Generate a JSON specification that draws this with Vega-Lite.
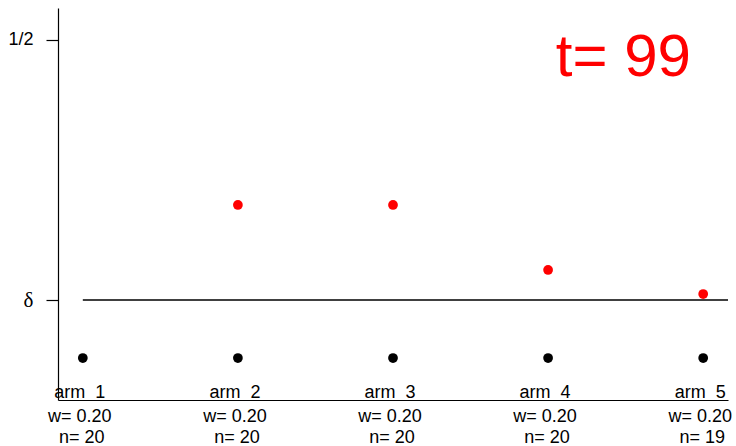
{
  "$schema": "https://vega.github.io/schema/vega-lite/v6.json",
  "width": 670,
  "height": 392,
  "autosize": "none",
  "padding": {"left": 58, "top": 8, "right": 8, "bottom": 46},
  "background": "white",
  "config": {
    "view": {"stroke": null},
    "font": "Liberation Sans",
    "text": {"font": "Liberation Sans"}
  },
  "datasets": {
    "points": [
      {"arm": 1, "value": 0.0108, "kind": "black"},
      {"arm": 2, "value": 0.0108, "kind": "black"},
      {"arm": 3, "value": 0.0108, "kind": "black"},
      {"arm": 4, "value": 0.0108, "kind": "black"},
      {"arm": 5, "value": 0.0108, "kind": "black"},
      {"arm": 2, "value": 0.2462, "kind": "red"},
      {"arm": 3, "value": 0.2462, "kind": "red"},
      {"arm": 4, "value": 0.1462, "kind": "red"},
      {"arm": 5, "value": 0.1092, "kind": "red"}
    ],
    "arms": [
      {"arm": 1, "armLabel": "arm\u00a0\u00a01", "wLabel": "w= 0.20", "nLabel": "n= 20"},
      {"arm": 2, "armLabel": "arm\u00a0\u00a02", "wLabel": "w= 0.20", "nLabel": "n= 20"},
      {"arm": 3, "armLabel": "arm\u00a0\u00a03", "wLabel": "w= 0.20", "nLabel": "n= 20"},
      {"arm": 4, "armLabel": "arm\u00a0\u00a04", "wLabel": "w= 0.20", "nLabel": "n= 20"},
      {"arm": 5, "armLabel": "arm\u00a0\u00a05", "wLabel": "w= 0.20", "nLabel": "n= 19"}
    ],
    "delta": [
      {"delta": 0.1, "from": 1, "to": 5.16}
    ],
    "caption": [
      {"label": "t= 99", "t": 99}
    ]
  },
  "layer": [
    {
      "data": {"name": "delta"},
      "mark": {"type": "rule", "color": "black", "strokeWidth": 1.4},
      "encoding": {
        "x": {"field": "from", "type": "quantitative", "title": null},
        "x2": {"field": "to"},
        "y": {"field": "delta", "type": "quantitative", "title": null}
      }
    },
    {
      "data": {"name": "points"},
      "mark": {"type": "point", "filled": true, "size": 95, "opacity": 1, "shape": "circle"},
      "encoding": {
        "x": {
          "field": "arm",
          "type": "quantitative",
          "title": null,
          "scale": {"domain": [0.84, 5.16], "nice": false, "zero": false},
          "axis": {
            "domain": true,
            "domainColor": "black",
            "domainWidth": 1.2,
            "ticks": false,
            "labels": false,
            "grid": false
          }
        },
        "y": {
          "field": "value",
          "type": "quantitative",
          "title": null,
          "scale": {"domain": [-0.0538, 0.5492], "nice": false, "zero": false},
          "axis": {
            "values": [0.1, 0.5],
            "labelExpr": "datum.value > 0.3 ? '1/2' : 'δ'",
            "domain": true,
            "domainColor": "black",
            "domainWidth": 1.2,
            "ticks": true,
            "tickColor": "black",
            "tickSize": 12,
            "tickWidth": 1.2,
            "labelPadding": 13,
            "labelFontSize": {"condition": {"test": "datum.value < 0.3", "value": 21}, "value": 18},
            "labelColor": "black",
            "labelFont": {"condition": {"test": "datum.value < 0.3", "value": "Liberation Serif"}, "value": "Liberation Sans"},
            "grid": false
          }
        },
        "color": {
          "field": "kind",
          "type": "nominal",
          "scale": {"domain": ["black", "red"], "range": ["#000000", "#FF0000"]},
          "legend": null
        }
      }
    },
    {
      "data": {"name": "caption"},
      "mark": {"type": "text", "fontSize": 60, "baseline": "alphabetic", "align": "center", "color": "#FF0000", "font": "Liberation Sans"},
      "encoding": {
        "x": {"datum": 4.485, "type": "quantitative", "title": null},
        "y": {"datum": 0.4446, "type": "quantitative", "title": null},
        "text": {"field": "label"}
      }
    },
    {
      "data": {"name": "arms"},
      "mark": {"type": "text", "fontSize": 18, "baseline": "alphabetic", "align": "center", "dy": -2, "dx": -3, "color": "black"},
      "encoding": {
        "x": {"field": "arm", "type": "quantitative", "title": null},
        "y": {"datum": -0.0538, "type": "quantitative", "title": null},
        "text": {"field": "armLabel"}
      }
    },
    {
      "data": {"name": "arms"},
      "mark": {"type": "text", "fontSize": 18, "baseline": "alphabetic", "align": "center", "dy": 22, "dx": -3, "color": "black"},
      "encoding": {
        "x": {"field": "arm", "type": "quantitative", "title": null},
        "y": {"datum": -0.0538, "type": "quantitative", "title": null},
        "text": {"field": "wLabel"}
      }
    },
    {
      "data": {"name": "arms"},
      "mark": {"type": "text", "fontSize": 18, "baseline": "alphabetic", "align": "center", "dy": 43, "dx": -1, "color": "black"},
      "encoding": {
        "x": {"field": "arm", "type": "quantitative", "title": null},
        "y": {"datum": -0.0538, "type": "quantitative", "title": null},
        "text": {"field": "nLabel"}
      }
    }
  ]
}
